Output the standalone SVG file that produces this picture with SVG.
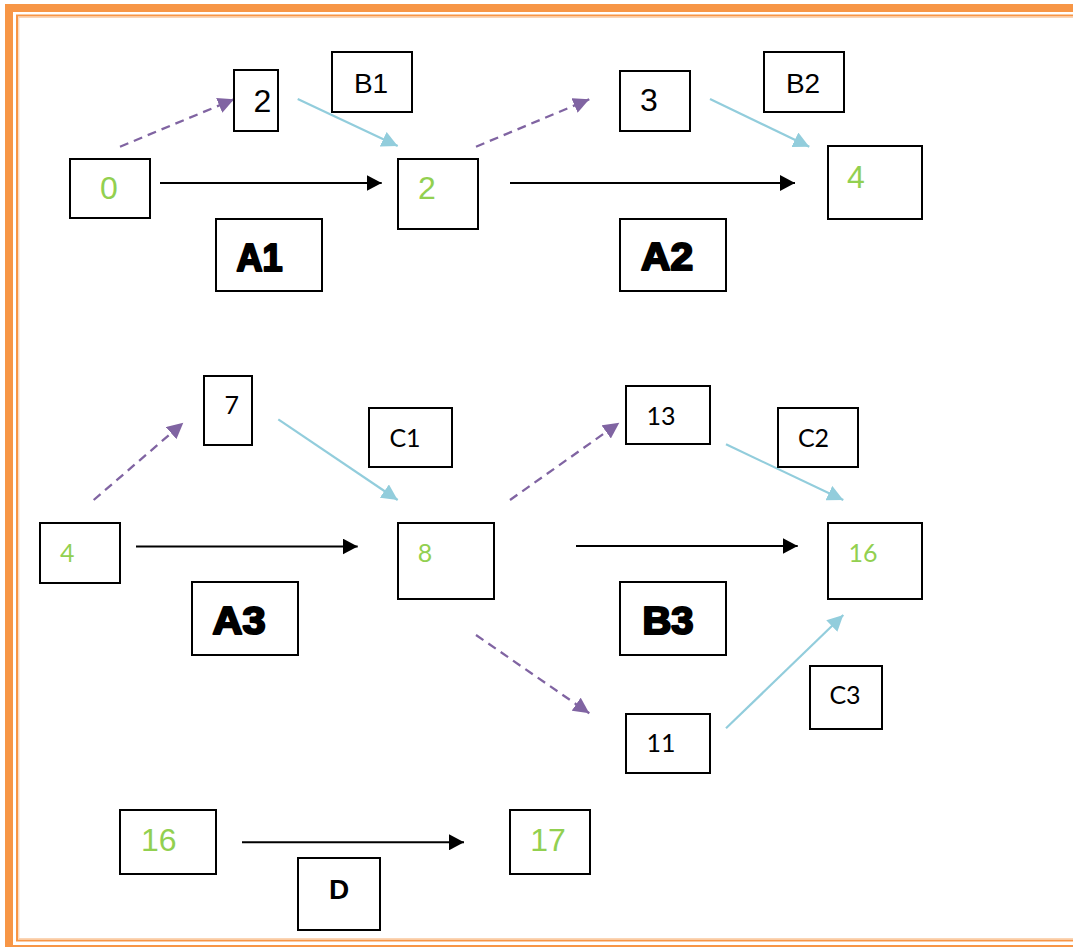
<svg xmlns="http://www.w3.org/2000/svg" width="1073" height="947" viewBox="0 0 1073 947">
<style>
.box{fill:#fff;stroke:#000;stroke-width:2}
.ar{font-family:"Liberation Sans",Arial,sans-serif;text-anchor:middle}
.cal{font-family:Lato,"Liberation Sans",sans-serif;font-size:25px;text-anchor:middle}
.big{font-size:32px}
.lab{font-size:28px}
.g{fill:#92D050}
.k{fill:#000}
.heavy{font-family:"Liberation Sans",Arial,sans-serif;font-weight:bold;font-size:38px;text-anchor:middle;fill:#000;stroke:#000;stroke-width:2.2;stroke-linejoin:round}
.solid{stroke:#000;stroke-width:2;fill:none;marker-end:url(#mk)}
.dash{stroke:#8064A2;stroke-width:2.3;stroke-dasharray:9 6;fill:none;marker-end:url(#mp)}
.blue{stroke:#92CDDC;stroke-width:2.2;fill:none;marker-end:url(#mb)}
</style>
<defs>
<marker id="mk" markerUnits="userSpaceOnUse" markerWidth="16" markerHeight="16" refX="15" refY="8" orient="auto"><path d="M0,0 L15,8 L0,16 z" fill="#000"/></marker>
<marker id="mp" markerUnits="userSpaceOnUse" markerWidth="17" markerHeight="16" refX="16" refY="8" orient="auto"><path d="M0,0 L16,8 L0,16 z" fill="#8064A2"/></marker>
<marker id="mb" markerUnits="userSpaceOnUse" markerWidth="17" markerHeight="16" refX="16" refY="8" orient="auto"><path d="M0,0 L16,8 L0,16 z" fill="#92CDDC"/></marker>
</defs>
<rect width="1073" height="947" fill="#fff"/>
<g id="frame" fill="none">
<rect x="9" y="8" width="1080" height="941" stroke="#F79646" stroke-width="8"/>
<rect x="17" y="15.5" width="1070" height="925" stroke="#F79646" stroke-width="2"/>
<rect x="18.8" y="17.3" width="1066" height="921.4" stroke="#FBCBA3" stroke-width="1"/>
</g>
<g id="connectors">
<path class="dash" d="M120,146.7 L234,99.3"/>
<path class="blue" d="M297.7,99 L397.7,146"/>
<path class="solid" d="M160,183 L381.7,183"/>
<path class="dash" d="M476,146.7 L589.3,99.3"/>
<path class="blue" d="M710,99 L809.3,146.7"/>
<path class="solid" d="M510,183 L795,183"/>
<path class="dash" d="M93.7,500 L183.3,422.7"/>
<path class="blue" d="M278.3,419.3 L397.7,500"/>
<path class="solid" d="M136,546.5 L357.7,546.5"/>
<path class="dash" d="M510,500 L619.3,422.7"/>
<path class="dash" d="M476,635 L589.3,713.3"/>
<path class="solid" d="M576,546 L797.7,546"/>
<path class="blue" d="M726,444.3 L843.3,500"/>
<path class="blue" d="M726,728.3 L843.3,615"/>
<path class="solid" d="M242,842.3 L464,842.3"/>
</g>
<g id="n0"><rect class="box" x="70" y="159" width="80" height="59"/><text class="ar big g" x="109" y="199">0</text></g>
<g id="e2"><rect class="box" x="234" y="70" width="44" height="61"/><text class="ar big k" x="262.5" y="112">2</text></g>
<g id="lB1"><rect class="box" x="332" y="52" width="80" height="60"/><text class="ar lab k" x="371" y="93">B1</text></g>
<g id="n2"><rect class="box" x="398" y="159" width="80" height="70"/><text class="ar big g" x="427" y="199">2</text></g>
<g id="lA1"><rect class="box" x="216" y="219" width="106" height="72"/><text class="heavy" x="259.5" y="271" textLength="46" lengthAdjust="spacingAndGlyphs">A1</text></g>
<g id="e3"><rect class="box" x="620" y="71" width="70" height="60"/><text class="ar big k" x="649" y="110.7">3</text></g>
<g id="lB2"><rect class="box" x="764" y="52" width="80" height="60"/><text class="ar lab k" x="803" y="93">B2</text></g>
<g id="n4"><rect class="box" x="828" y="146" width="94" height="73"/><text class="ar big g" x="856" y="187.7">4</text></g>
<g id="lA2"><rect class="box" x="620" y="219" width="106" height="72"/><text class="heavy" x="667" y="270" textLength="52" lengthAdjust="spacingAndGlyphs">A2</text></g>
<g id="e7"><rect class="box" x="204" y="376" width="48" height="69"/><text class="cal k" x="231.7" y="414">7</text></g>
<g id="lC1"><rect class="box" x="369" y="408" width="83" height="59"/><text class="cal k" x="405" y="447">C1</text></g>
<g id="n4b"><rect class="box" x="40" y="523" width="80" height="60"/><text class="cal g" x="67.3" y="561.7">4</text></g>
<g id="n8"><rect class="box" x="398" y="523" width="96" height="76"/><text class="cal g" x="425" y="562">8</text></g>
<g id="lA3"><rect class="box" x="192" y="582" width="106" height="73"/><text class="heavy" x="239" y="634" textLength="53" lengthAdjust="spacingAndGlyphs">A3</text></g>
<g id="e13"><rect class="box" x="626" y="386" width="84" height="58"/><text class="cal k" x="661" y="425">13</text></g>
<g id="lC2"><rect class="box" x="778" y="408" width="80" height="59"/><text class="cal k" x="813.5" y="446.7">C2</text></g>
<g id="n16"><rect class="box" x="828" y="523" width="94" height="76"/><text class="cal g" x="863" y="561.7">16</text></g>
<g id="lB3"><rect class="box" x="620" y="582" width="106" height="73"/><text class="heavy" x="668" y="634" textLength="51" lengthAdjust="spacingAndGlyphs">B3</text></g>
<g id="e11"><rect class="box" x="626" y="714" width="84" height="59"/><text class="cal k" x="661" y="751.7">11</text></g>
<g id="lC3"><rect class="box" x="810" y="666" width="72" height="63"/><text class="cal k" x="845" y="704">C3</text></g>
<g id="n16b"><rect class="box" x="120" y="810" width="96" height="64"/><text class="ar big g" x="158.7" y="851">16</text></g>
<g id="n17"><rect class="box" x="510" y="810" width="80" height="64"/><text class="ar big g" x="548" y="851">17</text></g>
<g id="lD"><rect class="box" x="298" y="858" width="82" height="72"/><text class="ar k" x="339" y="899" font-size="28" font-weight="bold">D</text></g>
</svg>
